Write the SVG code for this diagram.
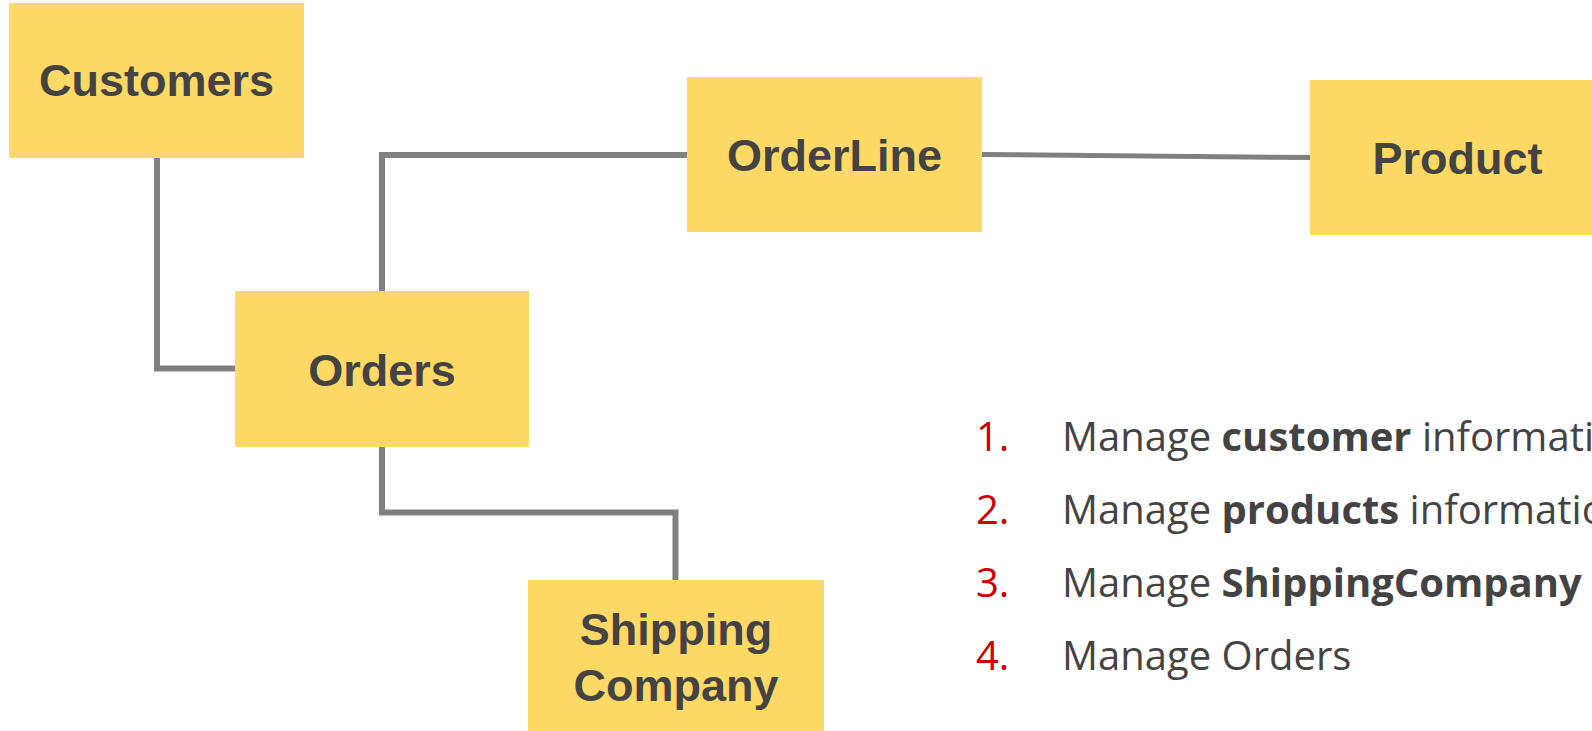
<svg xmlns="http://www.w3.org/2000/svg" width="1592" height="731" viewBox="0 0 1592 731">
<style>
.box{fill:#FFD966;}
.lbl{font-family:"Liberation Sans",Arial,sans-serif;font-weight:bold;font-size:45px;fill:#434343;text-anchor:middle;}
.conn{fill:none;stroke:#808080;stroke-width:6;stroke-linejoin:miter;}
.li{font-family:"Open Sans",sans-serif;font-size:40px;fill:#434343;}
.num{fill:#CC0000;}
.b{font-weight:bold;}
</style>
<rect width="1592" height="731" fill="#ffffff"/>
<g id="connectors">
<path class="conn" d="M157 158 V368.5 H235"/>
<path class="conn" d="M382 291 V155 H687"/>
<path class="conn" d="M382 447 V512.5 H675.5 V580"/>
<path class="conn" d="M982 154.5 L1310 157.5" style="stroke-width:5"/>
</g>
<g id="customers">
<rect class="box" x="9" y="3" width="295" height="155"/>
<text class="lbl" x="156.5" y="96">Customers</text>
</g>
<g id="orders">
<rect class="box" x="235" y="291" width="294" height="156"/>
<text class="lbl" x="382" y="386">Orders</text>
</g>
<g id="orderline">
<rect class="box" x="687" y="77" width="295" height="155"/>
<text class="lbl" x="834.5" y="171">OrderLine</text>
</g>
<g id="product">
<rect class="box" x="1310" y="80" width="295" height="155"/>
<text class="lbl" x="1457.5" y="174">Product</text>
</g>
<g id="shipping-company">
<rect class="box" x="528" y="580" width="296" height="156"/>
<text class="lbl" x="676" y="645">Shipping</text>
<text class="lbl" x="676" y="701">Company</text>
</g>
<g id="list">
<text class="li num" x="976" y="451">1.</text>
<text class="li" x="1062" y="451">Manage <tspan class="b">customer</tspan> informati</text>
<text class="li num" x="976" y="524">2.</text>
<text class="li" x="1062" y="524">Manage <tspan class="b">products</tspan> informatio</text>
<text class="li num" x="976" y="597">3.</text>
<text class="li" x="1062" y="597">Manage <tspan class="b">ShippingCompany</tspan></text>
<text class="li num" x="976" y="670">4.</text>
<text class="li" x="1062" y="670">Manage Orders</text>
</g>
</svg>
